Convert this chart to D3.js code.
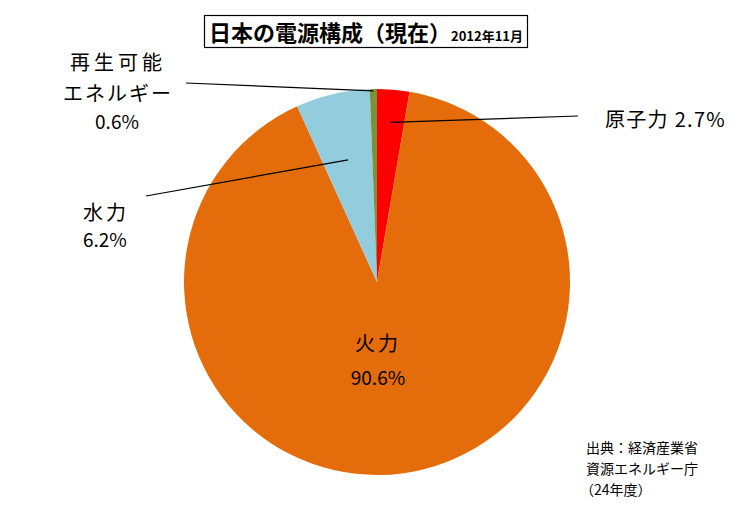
<!DOCTYPE html>
<html><head><meta charset="utf-8">
<script src="https://cdn.jsdelivr.net/npm/d3@7"></script>
<style>body{margin:0;background:#fff}svg{display:block}</style>
</head><body>
<svg id="c" width="754" height="522"></svg>
<script>
const categories = ["原子力", "火力", "水力", "再生可能エネルギー"];
const values = [2.7, 90.6, 6.2, 0.6];
const colors = ["#FF0000", "#E46C0A", "#93CDDD", "#77933C"];
const titleMain = "日本の電源構成（現在）";
const titleSub = "2012年11月";
const sourceLines = ["出典：経済産業省", "資源エネルギー庁", "（24年度）"];

const svg = d3.select("#c");
const font = "'Noto Sans CJK JP', 'Noto Sans', sans-serif";
const cx = 377, cy = 282, r = 193;

const pie = d3.pie().sort(null).value(d => d)(values);
const arc = d3.arc().innerRadius(0).outerRadius(r);
const g = svg.append("g").attr("transform", `translate(${cx},${cy})`);
g.selectAll("path").data(pie).join("path")
  .attr("d", arc).attr("fill", (d, i) => colors[i]);

const leaders = [
  {i: 0, rf: 0.83, to: [578, 116]},
  {i: 2, rf: 0.65, to: [146, 196]},
  {i: 3, rf: 0.99, to: [186, 83]}
];
leaders.forEach(l => {
  const d = pie[l.i];
  const a = (d.startAngle + d.endAngle) / 2;
  const x = cx + Math.sin(a) * r * l.rf, y = cy - Math.cos(a) * r * l.rf;
  svg.append("line").attr("x1", x).attr("y1", y).attr("x2", l.to[0]).attr("y2", l.to[1])
    .attr("stroke", "#000").attr("stroke-width", 1.2);
});

const fmt = v => d3.format(".1f")(v) + "%";
function txt(x, y, s, size, anchor, weight) {
  return svg.append("text").attr("x", x).attr("y", y).text(s)
    .attr("font-family", font).attr("font-size", size)
    .attr("text-anchor", anchor || "start").attr("font-weight", weight || "normal")
    .attr("fill", "#000");
}
txt(605, 127, categories[0] + " " + fmt(values[0]), 20, "start").attr("letter-spacing", 1.3);
txt(378, 351, categories[1], 20, "middle").attr("letter-spacing", 3);
txt(378, 385, fmt(values[1]), 19, "middle");
txt(83, 220, categories[2], 20, "start").attr("letter-spacing", 3);
txt(83, 247, fmt(values[2]), 19, "start");
txt(118, 70, categories[3].slice(0, 4), 20, "middle").attr("letter-spacing", 4);
txt(118, 101, categories[3].slice(4), 20, "middle").attr("letter-spacing", 2);
txt(117, 129, fmt(values[3]), 19, "middle");

svg.append("rect").attr("x", 204.5).attr("y", 15.5).attr("width", 323).attr("height", 32)
  .attr("fill", "#fff").attr("stroke", "#000").attr("stroke-width", 1.2);
const t = svg.append("text").attr("x", 209).attr("y", 41).attr("font-family", font).attr("font-weight", "bold").attr("fill", "#000");
t.append("tspan").attr("font-size", 22).text(titleMain);
t.append("tspan").attr("font-size", 13).text(titleSub);

sourceLines.forEach((s, i) => txt(i === 2 ? 580 : 586, 453 + i * 21, s, 14, "start"));
</script>
</body></html>
